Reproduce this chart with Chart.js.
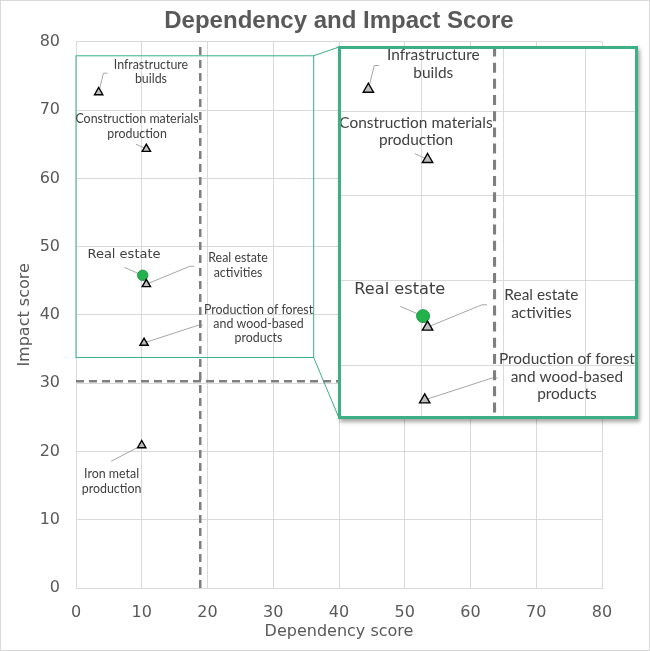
<!DOCTYPE html>
<html>
<head>
<meta charset="utf-8">
<script src="https://cdn.jsdelivr.net/npm/chart.js@4.4.0/dist/chart.umd.min.js"></script>
<style>
html, body { margin: 0; padding: 0; background: #ffffff; }
#wrap { position: relative; width: 650px; height: 651px; overflow: hidden; }
#main { position: absolute; left: 0; top: 0; }
#frame { position: absolute; left: 0; top: 0; width: 648px; height: 649px; border: 1px solid #D9D9D9; pointer-events: none; }
#insetBox { position: absolute; left: 338px; top: 46px; width: 294px; height: 367px; border: 3px solid #3DAF84; background: #ffffff; box-shadow: 2px 3px 4px rgba(0,0,0,0.35); }
#inset { display: block; }
</style>
</head>
<body>
<div id="wrap">
  <canvas id="main" width="650" height="651"></canvas>
  <div id="insetBox"><canvas id="inset" width="294" height="367"></canvas></div>
  <div id="frame"></div>
</div>
<script>
// ---------------- data ----------------
const categories = [
  'Infrastructure builds',
  'Construction materials production',
  'Real estate activities',
  'Production of forest and wood-based products',
  'Iron metal production'
];
const dependencyScores = [3.45, 10.7, 10.7, 10.35, 10.0];
const impactScores = [72.6, 64.3, 44.5, 35.9, 20.9];

const highlightCategories = ['Real estate'];
const highlightDependency = [10.15];
const highlightImpact = [45.8];

const dependencyThreshold = [18.9];
const impactThreshold = [30.3];

const xTickValues = [0, 10, 20, 30, 40, 50, 60, 70, 80];
const yTickValues = [0, 10, 20, 30, 40, 50, 60, 70, 80];

// zoomed region outlined on the main chart: [xMin, xMax, yMin, yMax]
const zoomBox = [0, 36.15, 33.76, 77.95];
// range shown by the magnified inset
const insetView = [0.1, 36.1, 34.0, 77.35];

// ---------------- label layout (data-space anchors) ----------------
const labelLayout = {
  'Infrastructure builds': { lines: ['Infrastructure', 'builds'], at: [11.4, 75.6], leader: [[4.77, 75.4], [4.17, 75.4]] },
  'Construction materials production': { lines: ['Construction materials', 'production'], at: [9.28, 67.6], leader: [[9.13, 65.0]] },
  'Real estate activities': { lines: ['Real estate', 'activities'], at: [24.64, 47.24], leader: [[17.99, 47.13], [17.34, 47.13]] },
  'Production of forest and wood-based products': { lines: ['Production of forest', 'and wood-based', 'products'], at: [27.76, 38.64], leader: [[19.27, 38.49], [18.6, 38.49]] },
  'Iron metal production': { lines: ['Iron metal', 'production'], at: [5.41, 15.59], leader: [[5.34, 18.56]] },
  'Real estate': { lines: ['Real estate'], at: [7.3, 48.9], leader: [[7.35, 46.95]], big: true }
};

const GREEN = '#3DAF84';
const GRID = '#D9D9D9';
const TEXT = '#595959';
const LABEL = '#404040';

function allPoints() {
  const out = [];
  categories.forEach((c, i) => out.push({ name: c, x: dependencyScores[i], y: impactScores[i] }));
  highlightCategories.forEach((c, i) => out.push({ name: c, x: highlightDependency[i], y: highlightImpact[i] }));
  return out;
}

const labelPlugin = {
  id: 'pointLabels',
  beforeDatasetsDraw(chart, args, opts) {
    const { ctx, scales: { x, y } } = chart;
    ctx.save();
    if (opts.showZoomBox) {
      ctx.strokeStyle = GREEN;
      ctx.lineWidth = 1;
      const l = x.getPixelForValue(zoomBox[0]), r = x.getPixelForValue(zoomBox[1]);
      const b = y.getPixelForValue(zoomBox[2]), t = y.getPixelForValue(zoomBox[3]);
      ctx.strokeRect(l, t, r - l, b - t);
      const box = document.getElementById('insetBox');
      const ix = box.offsetLeft + 1, iy = box.offsetTop + 1, ib = box.offsetTop + box.offsetHeight - 1;
      ctx.beginPath();
      ctx.moveTo(r, t); ctx.lineTo(ix, iy);
      ctx.moveTo(r, b); ctx.lineTo(ix, ib);
      ctx.stroke();
    }
    ctx.strokeStyle = '#A6A6A6';
    ctx.lineWidth = 1;
    allPoints().forEach(p => {
      const L = labelLayout[p.name];
      if (!L) return;
      ctx.beginPath();
      L.leader.forEach((v, j) => {
        const px = x.getPixelForValue(v[0]), py = y.getPixelForValue(v[1]);
        if (j === 0) ctx.moveTo(px, py); else ctx.lineTo(px, py);
      });
      ctx.lineTo(x.getPixelForValue(p.x), y.getPixelForValue(p.y));
      ctx.stroke();
    });
    ctx.restore();
  },
  afterDatasetsDraw(chart, args, opts) {
    const { ctx, scales: { x, y } } = chart;
    const k = opts.scale || 1;
    ctx.save();
    ctx.textAlign = 'center';
    ctx.textBaseline = 'middle';
    ctx.fillStyle = LABEL;
    allPoints().forEach(p => {
      const L = labelLayout[p.name];
      if (!L) return;
      const cx = x.getPixelForValue(L.at[0]), cy = y.getPixelForValue(L.at[1]);
      let lh;
      if (L.big) {
        ctx.font = (13 * k) + 'px "DejaVu Sans", Verdana, sans-serif';
        lh = 16 * k;
      } else {
        ctx.font = (12.4 * k) + 'px Lato, "Noto Sans", sans-serif';
        lh = 14.2 * k;
      }
      const y0 = cy - (L.lines.length - 1) * lh / 2;
      L.lines.forEach((s, j) => ctx.fillText(s, cx, y0 + j * lh));
    });
    ctx.restore();
  }
};

function makeDatasets(k) {
  return [
    { label: 'Sectors', data: categories.map((c, i) => ({ x: dependencyScores[i], y: impactScores[i] })),
      pointStyle: 'triangle', pointRadius: 4.8 * k, backgroundColor: '#BFBFBF', borderColor: '#000000', borderWidth: 1.4, showLine: false },
    { label: highlightCategories[0], data: highlightCategories.map((c, i) => ({ x: highlightDependency[i], y: highlightImpact[i] })),
      pointStyle: 'circle', pointRadius: 5.2 * k, backgroundColor: '#22B14C', borderColor: '#1C9A42', borderWidth: 1, showLine: false },
    { label: 'Dependency threshold', data: [{ x: dependencyThreshold[0], y: yTickValues[0] }, { x: dependencyThreshold[0], y: yTickValues[yTickValues.length - 1] }],
      showLine: true, pointRadius: 0, borderColor: '#7F7F7F', borderWidth: 2.5 * k, borderDash: [8 * k, 5 * k] },
    { label: 'Impact threshold', data: [{ x: xTickValues[0], y: impactThreshold[0] }, { x: xTickValues[xTickValues.length - 1], y: impactThreshold[0] }],
      showLine: true, pointRadius: 0, borderColor: '#7F7F7F', borderWidth: 2.5 * k, borderDash: [8 * k, 5 * k] }
  ];
}

const tickFont = { family: '"DejaVu Sans", Verdana, sans-serif', size: 16 };

new Chart(document.getElementById('main'), {
  type: 'scatter',
  data: { datasets: makeDatasets(1) },
  plugins: [labelPlugin],
  options: {
    responsive: false, animation: false, events: [], devicePixelRatio: 1,
    layout: { padding: { left: 0, right: 48, top: 0, bottom: 0 } },
    plugins: {
      legend: { display: false }, tooltip: { enabled: false },
      title: { display: true, text: 'Dependency and Impact Score', color: TEXT, fullSize: false,
        font: { family: '"Liberation Sans", Arial, sans-serif', size: 24, weight: 'bold' }, padding: { top: 7, bottom: 6 } },
      pointLabels: { scale: 1, showZoomBox: true }
    },
    scales: {
      x: { type: 'linear', min: xTickValues[0], max: xTickValues[xTickValues.length - 1],
        afterFit(s) { s.height = 63; },
        ticks: { stepSize: 10, color: TEXT, font: tickFont, padding: 15 },
        grid: { color: GRID, lineWidth: 1, drawTicks: false }, border: { color: GRID, width: 1 },
        title: { display: true, text: 'Dependency score', color: TEXT, font: tickFont, padding: { top: 0, bottom: 10 } } },
      y: { type: 'linear', min: yTickValues[0], max: yTickValues[yTickValues.length - 1],
        afterFit(s) { s.width = 76; },
        ticks: { stepSize: 10, color: TEXT, font: tickFont, padding: 16 },
        grid: { color: GRID, lineWidth: 1, drawTicks: false }, border: { color: GRID, width: 1 },
        title: { display: true, text: 'Impact score', color: TEXT, font: tickFont, padding: { top: 15, bottom: 0 } } }
    }
  }
});

const K = 1.245;
const keepTens = s => { s.ticks = s.ticks.filter(t => Math.abs(t.value / 10 - Math.round(t.value / 10)) < 1e-6); };

new Chart(document.getElementById('inset'), {
  type: 'scatter',
  data: { datasets: makeDatasets(K) },
  plugins: [labelPlugin],
  options: {
    responsive: false, animation: false, events: [], devicePixelRatio: 1,
    layout: { padding: 0, autoPadding: false },
    plugins: { legend: { display: false }, tooltip: { enabled: false }, title: { display: false },
      pointLabels: { scale: K, showZoomBox: false } },
    scales: {
      x: { type: 'linear', min: insetView[0], max: insetView[1], afterFit(s) { s.height = 0; }, afterBuildTicks: keepTens,
        ticks: { display: false, stepSize: 10 }, grid: { color: GRID, drawTicks: false }, border: { display: false } },
      y: { type: 'linear', min: insetView[2], max: insetView[3], afterFit(s) { s.width = 0; }, afterBuildTicks: keepTens,
        ticks: { display: false, stepSize: 10 }, grid: { color: GRID, drawTicks: false }, border: { display: false } }
    }
  }
});
</script>
</body>
</html>
